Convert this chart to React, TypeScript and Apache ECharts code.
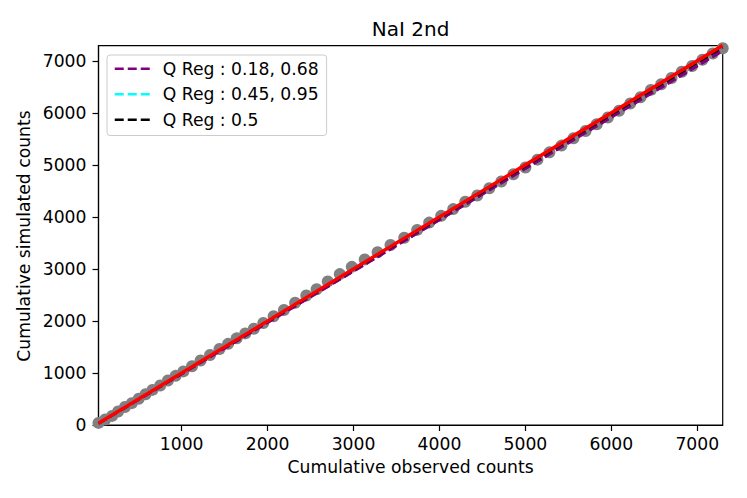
import React, { useEffect, useRef } from "react";
import * as echarts from "echarts";

const observed = [32, 110, 190, 260, 340, 420, 500, 580, 660, 750, 840, 930, 1020, 1120, 1220, 1330, 1440, 1540, 1640, 1740, 1840, 1950, 2070, 2190, 2320, 2450, 2570, 2700, 2840, 2980, 3130, 3280, 3430, 3590, 3740, 3880, 4020, 4160, 4300, 4440, 4580, 4720, 4860, 5000, 5140, 5280, 5420, 5560, 5700, 5830, 5960, 6090, 6220, 6340, 6460, 6580, 6700, 6820, 6940, 7060, 7180, 7296];
const simulated = [40, 105, 175, 260, 345, 420, 505, 590, 675, 760, 855, 945, 1030, 1130, 1240, 1345, 1460, 1560, 1665, 1760, 1850, 1960, 2090, 2210, 2350, 2490, 2610, 2760, 2900, 3040, 3180, 3320, 3460, 3600, 3750, 3890, 4020, 4150, 4290, 4410, 4550, 4680, 4820, 4950, 5100, 5240, 5370, 5510, 5650, 5780, 5910, 6040, 6180, 6300, 6440, 6550, 6670, 6790, 6900, 7020, 7140, 7240];

const lineX = [32, 7296];
const qLow018 = [24, 7188];
const qHigh068 = [27, 7198];
const qLow045 = [34, 7280];
const qHigh095 = [38, 7298];
const qMed05 = [33, 7255];
const identity = [32, 7296];

const xTicks = [1000, 2000, 3000, 4000, 5000, 6000, 7000];
const yTicks = [0, 1000, 2000, 3000, 4000, 5000, 6000, 7000];

const legendNames = ["Q Reg : 0.18, 0.68", "Q Reg : 0.45, 0.95", "Q Reg : 0.5"];

const FONT = "DejaVu Sans";
const FS = 17.2;

const pairs = (xs: number[], ys: number[]) => xs.map((x, i) => [x, ys[i]]);

export default function App() {
  const ref = useRef<HTMLDivElement>(null);
  useEffect(() => {
    if (!ref.current) return;
    const chart = echarts.init(ref.current, undefined, { renderer: "svg" });
    const dashed = (name: string, color: string, ys: number[]) => ({
      name,
      type: "line",
      data: pairs(lineX, ys),
      symbol: "none",
      lineStyle: { color, width: 2.5, type: [9, 4] },
      itemStyle: { color },
      z: 3,
    });
    chart.setOption({
      animation: false,
      textStyle: { fontFamily: FONT },
      grid: {
        left: 98.5,
        right: 24.3,
        top: 45.7,
        bottom: 73,
        show: true,
        borderColor: "#000",
        borderWidth: 1.2,
        backgroundColor: "transparent",
      },
      xAxis: {
        type: "value",
        min: 32,
        max: 7296,
        splitLine: { show: false },
        axisLine: { show: true, lineStyle: { color: "#000", width: 1.2 } },
        axisTick: { show: true, length: 6, lineStyle: { color: "#000", width: 1.2 }, customValues: xTicks },
        axisLabel: { color: "#000", fontSize: FS, fontFamily: FONT, margin: 10, customValues: xTicks, formatter: (v: number) => String(v) },
      },
      yAxis: {
        type: "value",
        min: 0,
        max: 7290,
        splitLine: { show: false },
        axisLine: { show: true, lineStyle: { color: "#000", width: 1.2 } },
        axisTick: { show: true, length: 6, lineStyle: { color: "#000", width: 1.2 }, customValues: yTicks },
        axisLabel: { color: "#000", fontSize: FS, fontFamily: FONT, margin: 12, customValues: yTicks, formatter: (v: number) => String(v) },
      },
      legend: {
        orient: "vertical",
        left: 107,
        top: 55,
        data: legendNames,
        itemWidth: 35,
        itemHeight: 14,
        itemGap: 8,
        padding: [5, 8, 7, 6.5],
        borderColor: "#cccccc",
        borderWidth: 1,
        borderRadius: 3,
        backgroundColor: "rgba(255,255,255,0.8)",
        itemStyle: { opacity: 0 },
        lineStyle: { width: 2.5 },
        textStyle: { color: "#000", fontSize: FS, fontFamily: FONT, padding: [0, 0, 0, 8], lineHeight: 17.5 },
        selectedMode: false,
      },
      graphic: [
        {
          type: "text",
          x: 410.6,
          y: 29,
          style: { text: "NaI 2nd", fill: "#000", font: `20px '${FONT}'`, textAlign: "center", textVerticalAlign: "middle" },
        },
        {
          type: "text",
          x: 410.6,
          y: 467,
          style: { text: "Cumulative observed counts", fill: "#000", font: `${FS}px '${FONT}'`, textAlign: "center", textVerticalAlign: "middle" },
        },
        {
          type: "text",
          x: 24,
          y: 236,
          rotation: Math.PI / 2,
          style: { text: "Cumulative simulated counts", fill: "#000", font: `${FS}px '${FONT}'`, textAlign: "center", textVerticalAlign: "middle" },
        },
      ],
      series: [
        {
          name: "points",
          type: "scatter",
          data: pairs(observed, simulated),
          symbolSize: 12,
          itemStyle: { color: "#808080", opacity: 1 },
          z: 2,
        },
        dashed(legendNames[0], "#800080", qLow018),
        dashed(legendNames[0], "#800080", qHigh068),
        dashed(legendNames[1], "#00ffff", qLow045),
        dashed(legendNames[1], "#00ffff", qHigh095),
        dashed(legendNames[2], "#000000", qMed05),
        {
          name: "identity",
          type: "line",
          data: pairs(lineX, identity),
          symbol: "none",
          lineStyle: { color: "#ff0000", width: 3.5 },
          z: 4,
        },
      ],
    });
    return () => chart.dispose();
  }, []);
  return <div ref={ref} style={{ position: "absolute", left: 0, top: 0, width: 747, height: 498 }} />;
}
